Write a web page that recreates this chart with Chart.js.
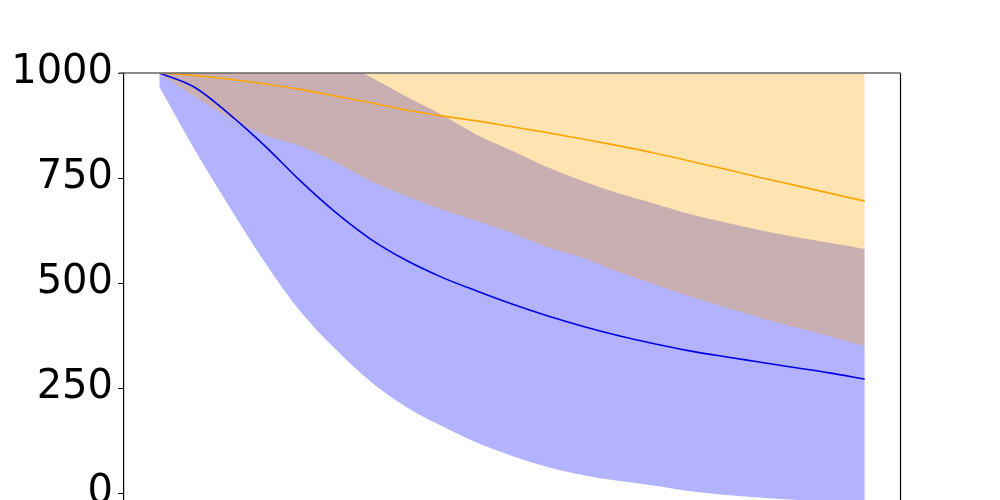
<!DOCTYPE html>
<html>
<head>
<meta charset="utf-8">
<script src="https://cdn.jsdelivr.net/npm/chart.js@4.4.0/dist/chart.umd.min.js"></script>
<style>
html,body{margin:0;padding:0;background:#fff;overflow:hidden;}
#wrap{width:1000px;height:600px;position:relative;}
</style>
</head>
<body>
<div id="wrap"><canvas id="c" width="1000" height="600"></canvas></div>
<script>
const xs = [0,1,2,3,4,5,6,7,8,9,10,11,12,13,14,15,16,17,18,19,20];
const yTicks = [0,250,500,750,1000];

const blueMean  = [1000,966,901,826,743,668,604,554,514,481,450,422,397,375,356,339,325,312,299,286,271];
const blueLower = [967,818,680,548,432,342,265,205,160,120,88,62,43,29,18,5,-4,-11,-16,-20,-24];
const blueUpper = [1010,1050,1070,1070,1060,1030,990,944,901,853,815,776,743,714,690,665,645,626,610,596,581];

const orangeMean  = [1000,994,985,974,961,945,929,912,898,886,872,858,843,827,810,791,772,752,733,714,695];
const orangeLower = [1000,944,893,852,826,787,743,707,675,648,619,585,560,527,498,469,443,418,395,373,350];
const orangeUpper = [1000,1044,1077,1096,1096,1103,1115,1117,1121,1124,1125,1131,1126,1127,1122,1113,1101,1086,1071,1055,1040];

const pts = arr => arr.map((v,i)=>({x:xs[i], y:v}));

const frame = {
  id:'frame',
  afterDatasetsDraw(chart){
    const {ctx, chartArea:a} = chart;
    ctx.save();
    ctx.lineWidth = 1.2;
    ctx.strokeStyle = '#000';
    ctx.beginPath();
    ctx.moveTo(a.right+0.5, a.top);
    ctx.lineTo(a.right+0.5, a.bottom);
    ctx.stroke();
    ctx.strokeStyle = '#666';
    ctx.lineWidth = 1.5;
    ctx.beginPath();
    ctx.moveTo(a.left-5, a.top);
    ctx.lineTo(a.right+1, a.top);
    ctx.stroke();
    ctx.restore();
  }
};

const band = {borderWidth:0, pointRadius:0, cubicInterpolationMode:'monotone'};
new Chart(document.getElementById('c'), {
  type:'line',
  data:{
    datasets:[
      {label:'orange', data:pts(orangeMean), borderColor:'#ffa500', borderWidth:1.6, pointRadius:0, cubicInterpolationMode:'monotone', fill:false},
      {label:'blue', data:pts(blueMean), borderColor:'#0000e6', borderWidth:1.6, pointRadius:0, cubicInterpolationMode:'monotone', fill:false},
      Object.assign({label:'ou', data:pts(orangeUpper), backgroundColor:'rgba(255,165,0,0.3)', fill:'+1'}, band),
      Object.assign({label:'ol', data:pts(orangeLower), fill:false}, band),
      Object.assign({label:'bu', data:pts(blueUpper), backgroundColor:'rgba(0,0,255,0.3)', fill:'+1'}, band),
      Object.assign({label:'bl', data:pts(blueLower), fill:false}, band)
    ]
  },
  options:{
    responsive:false,
    animation:false,
    layout:{padding:{top:73, right:100, bottom:44, left:0}},
    plugins:{legend:{display:false}, tooltip:{enabled:false}},
    scales:{
      x:{type:'linear', min:-1, max:21, display:false},
      y:{
        type:'linear', min:-150, max:1000,
        afterFit(s){ s.width = 124; },
        afterBuildTicks(s){ s.ticks = yTicks.map(v=>({value:v})); },
        border:{display:true, color:'#000', width:1.2},
        grid:{drawOnChartArea:false, drawTicks:true, tickLength:6, color:'#000', lineWidth:1},
        ticks:{color:'#000', padding:5, font:{family:'DejaVu Sans', size:40}, callback:v=>String(v)}
      }
    }
  },
  plugins:[frame]
});
</script>
</body>
</html>
